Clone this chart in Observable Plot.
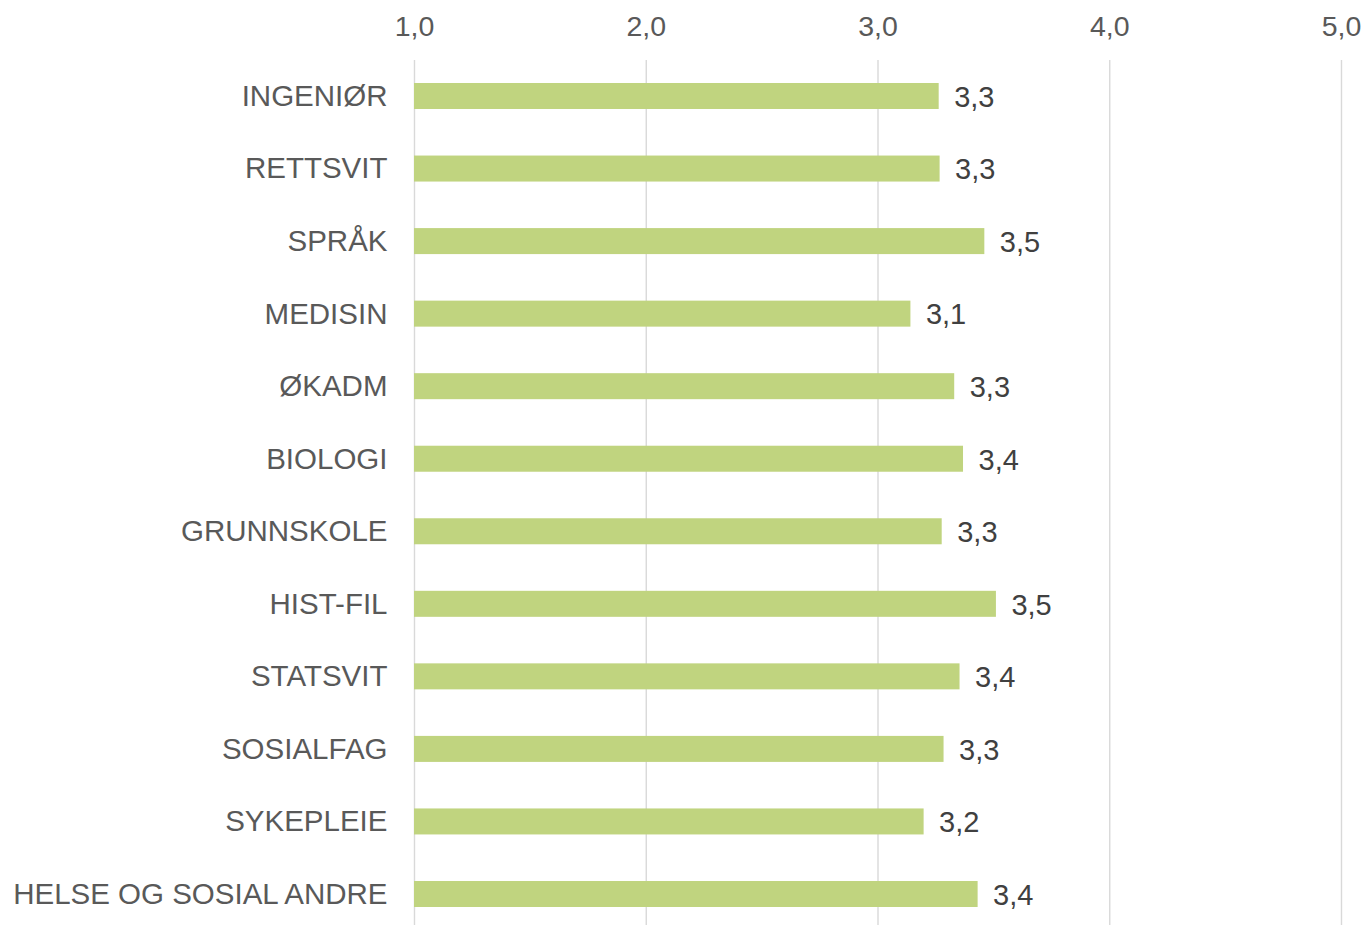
<!DOCTYPE html>
<html>
<head>
<meta charset="utf-8">
<script src="https://cdn.jsdelivr.net/npm/d3@7"></script>
<script src="https://cdn.jsdelivr.net/npm/@observablehq/plot@0.6"></script>
<style>
  html, body { margin: 0; padding: 0; background: #fff; overflow: hidden; }
  svg { display: block; }
</style>
</head>
<body>
<div id="chart"></div>
<script>
const categories = ["INGENIØR", "RETTSVIT", "SPRÅK", "MEDISIN", "ØKADM", "BIOLOGI", "GRUNNSKOLE", "HIST-FIL", "STATSVIT", "SOSIALFAG", "SYKEPLEIE", "HELSE OG SOSIAL ANDRE"];
const values = [3.264, 3.268, 3.461, 3.142, 3.331, 3.369, 3.277, 3.511, 3.354, 3.285, 3.199, 3.432];
const ticks = [1, 2, 3, 4, 5];

const fmt = v => v.toFixed(1).replace(".", ",");
const data = categories.map((c, i) => ({cat: c, value: values[i]}));

const W = 1367, H = 925;
const step = 72.545, pad = 0.6416;
const y0 = 96 - step * (1 + pad) / 2;
const y1 = y0 + step * (categories.length + pad);

const chart = Plot.plot({
  width: W,
  height: H,
  marginLeft: 414,
  marginRight: 26,
  marginTop: 60,
  marginBottom: 0,
  style: {fontFamily: "'Liberation Sans', Arial, sans-serif", background: "#fff"},
  x: {domain: [1, 5], axis: null},
  y: {domain: categories, range: [y0, y1], padding: pad, round: false, axis: null},
  marks: [
    Plot.ruleX(ticks, {x: d => d, stroke: "#d9d9d9", strokeWidth: 1.4}),
    Plot.barX(data, {x1: 1, x2: "value", y: "cat", fill: "#c0d47f"}),
    Plot.text(ticks, {x: d => d, frameAnchor: "top", lineAnchor: "middle", dy: -34, text: d => fmt(d), fontSize: 28.5, fill: "#595959"}),
    Plot.text(data, {x: 1, y: "cat", text: "cat", textAnchor: "end", dx: -27, fontSize: 29.5, fill: "#595959"}),
    Plot.text(data, {x: "value", y: "cat", text: d => fmt(d.value), textAnchor: "start", dx: 15, dy: 1, fontSize: 29, fill: "#404040"})
  ]
});
document.getElementById("chart").append(chart);
</script>
</body>
</html>
